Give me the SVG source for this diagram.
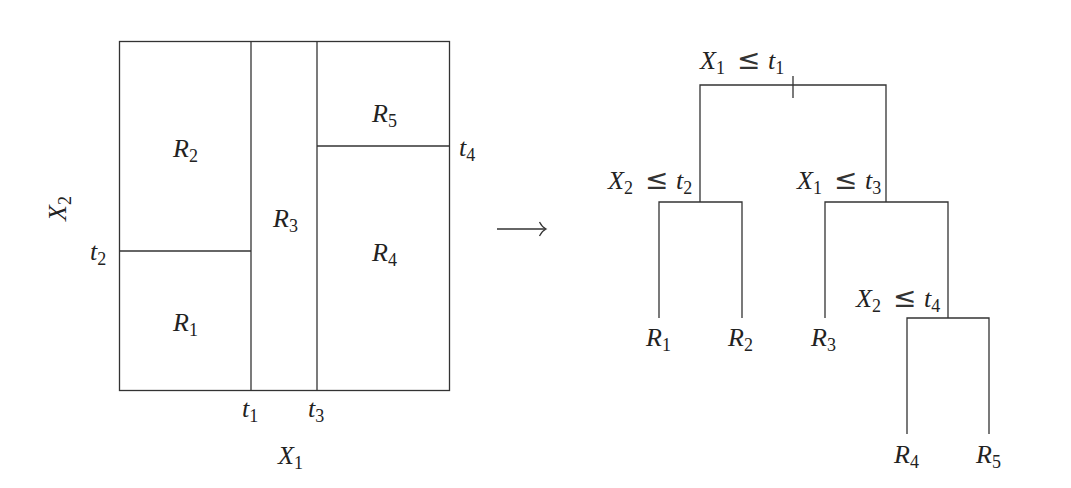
<svg xmlns="http://www.w3.org/2000/svg" width="1071" height="488" viewBox="0 0 1071 488">
<style>
.ln{stroke:#333;stroke-width:1.3;fill:none}
text{font-family:'Liberation Serif','Times New Roman',serif;font-size:26px;font-style:italic;fill:#222}
.s{font-style:normal;font-size:18px}
.r{font-style:normal;font-size:28px;font-family:'DejaVu Sans',sans-serif;fill:#333}
</style>
<rect width="1071" height="488" fill="#fff"/>
<g id="partition">
<rect class="ln" x="119.5" y="41.5" width="330" height="349"/>
<line class="ln" x1="251" y1="41.5" x2="251" y2="390.5"/>
<line class="ln" x1="317" y1="41.5" x2="317" y2="390.5"/>
<line class="ln" x1="119.5" y1="251" x2="251" y2="251"/>
<line class="ln" x1="317" y1="146" x2="449.5" y2="146"/>
<text x="173" y="157">R<tspan class="s" dy="5">2</tspan></text>
<text x="173" y="331">R<tspan class="s" dy="5">1</tspan></text>
<text x="273" y="227">R<tspan class="s" dy="5">3</tspan></text>
<text x="372" y="122">R<tspan class="s" dy="5">5</tspan></text>
<text x="372" y="261">R<tspan class="s" dy="5">4</tspan></text>
<text x="459" y="156">t<tspan class="s" dy="5">4</tspan></text>
<text x="90" y="260">t<tspan class="s" dy="5">2</tspan></text>
<text x="242" y="417">t<tspan class="s" dy="5">1</tspan></text>
<text x="308" y="417">t<tspan class="s" dy="5">3</tspan></text>
<text x="278" y="464">X<tspan class="s" dy="5">1</tspan></text>
<text transform="translate(66,221) rotate(-90)">X<tspan class="s" dy="5">2</tspan></text>
</g>
<g id="arrow">
<line class="ln" x1="497" y1="229" x2="545" y2="229" stroke-width="1.8" stroke="#111"/>
<path class="ln" d="M539.5,222 Q542,227 546,229 Q542,231 539.5,236" stroke-width="1.8" stroke="#111"/>
</g>
<g id="connectors">
<path class="ln" d="M700,202 V85 H886 V202"/>
<line class="ln" x1="793" y1="76" x2="793" y2="98" stroke-width="1.6"/>
<path class="ln" d="M659,318 V202 H742 V318"/>
<path class="ln" d="M825,318 V202 H948 V318"/>
<path class="ln" d="M907,434 V318 H989 V434"/>
</g>
<g id="node-root"><text y="69"><tspan x="700">X</tspan><tspan class="s" dy="5">1</tspan><tspan class="r" x="737" dy="-5">≤</tspan><tspan x="768">t</tspan><tspan class="s" dy="5">1</tspan></text></g>
<g id="node-x2t2"><text y="189"><tspan x="608">X</tspan><tspan class="s" dy="5">2</tspan><tspan class="r" x="645" dy="-5">≤</tspan><tspan x="676">t</tspan><tspan class="s" dy="5">2</tspan></text></g>
<g id="node-x1t3"><text y="189"><tspan x="797">X</tspan><tspan class="s" dy="5">1</tspan><tspan class="r" x="834" dy="-5">≤</tspan><tspan x="865">t</tspan><tspan class="s" dy="5">3</tspan></text></g>
<g id="node-x2t4"><text y="307"><tspan x="856">X</tspan><tspan class="s" dy="5">2</tspan><tspan class="r" x="893" dy="-5">≤</tspan><tspan x="924">t</tspan><tspan class="s" dy="5">4</tspan></text></g>
<g id="leaf-r1"><text x="646" y="346">R<tspan class="s" dy="5">1</tspan></text></g>
<g id="leaf-r2"><text x="728" y="346">R<tspan class="s" dy="5">2</tspan></text></g>
<g id="leaf-r3"><text x="811" y="346">R<tspan class="s" dy="5">3</tspan></text></g>
<g id="leaf-r4"><text x="894" y="463">R<tspan class="s" dy="5">4</tspan></text></g>
<g id="leaf-r5"><text x="976" y="463">R<tspan class="s" dy="5">5</tspan></text></g>
</svg>
